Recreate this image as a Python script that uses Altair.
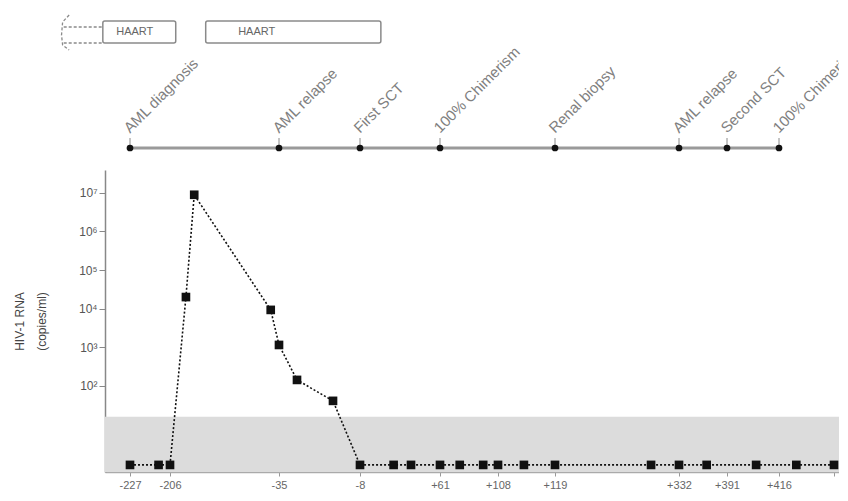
import altair as alt
import pandas as pd

# ---------------- data ----------------
# viral load measurements (day relative to first SCT, copies/ml; 0.9 = undetectable, drawn on baseline)
DAYS = [-227, -212, -206, -181, -168, -48, -35, -29, -17, -8, 21, 36, 61, 77,
        96, 108, 113, 119, 284, 332, 366, 405, 433, 470]
COPIES = [0.9, 0.9, 0.9, 2.0e4, 8.9e6, 9.3e3, 1.15e3, 143, 41, 0.9, 0.9, 0.9, 0.9, 0.9,
          0.9, 0.9, 0.9, 0.9, 0.9, 0.9, 0.9, 0.9, 0.9, 0.9]

# x-axis tick days (last one runs off the right edge, so it gets no label)
TICK_DAYS = [-227, -206, -35, -8, 61, 108, 119, 332, 391, 416, 470]
LAST_LABELLED = 416

# clinical timeline
EVENT_NAMES = ["AML diagnosis", "AML relapse", "First SCT", "100% Chimerism",
               "Renal biopsy", "AML relapse", "Second SCT", "100% Chimerism"]
EVENT_DAYS = [-227, -35, -8, 61, 119, 332, 391, 416]

# HAART periods
HAART_LABELS = ["HAART", "HAART"]
HAART_START = [-252, -150]
HAART_END = [-197, 10]

# y axis
Y_TICKS = [1e2, 1e3, 1e4, 1e5, 1e6, 1e7]
Y_TICK_LABELS = ["10²", "10³", "10⁴", "10⁵", "10⁶", "10⁷"]
DETECTION_LIMIT = 16

# ---------------- scales (broken, piecewise time axis) ----------------
X_BREAK_DAYS = [-250, -227, -206, -35, -8, 61, 108, 119, 332, 391, 416, 470, 475]
X_BREAK_PIX = [0, 25, 65, 174, 255, 335, 393, 450, 574, 622, 674, 729, 734]
Y_MIN, Y_MAX = 0.59, 3.9e7
W = 734

xscale = alt.Scale(domain=X_BREAK_DAYS, range=X_BREAK_PIX, nice=False, zero=False)
yscale = alt.Scale(type="log", domain=[Y_MIN, Y_MAX], nice=False)

# ---------------- top panel: HAART boxes + timeline ----------------
TOP_H = 148
LINE_V = 10       # timeline level (panel units)
TICK_V = 20
BOX_LO, BOX_HI = 115, 137
ty = alt.Scale(domain=[0, TOP_H], nice=False, zero=False)

haart = pd.DataFrame({"label": HAART_LABELS, "start": HAART_START, "end": HAART_END})
haart["mid"] = (haart["start"] + haart["end"]) / 2
haart["lo"] = BOX_LO
haart["hi"] = BOX_HI
haart["tv"] = (BOX_LO + BOX_HI) / 2

boxes = alt.Chart(haart).mark_rect(fill="white", stroke="#8a8a8a", strokeWidth=1.5,
                                   cornerRadius=2).encode(
    x=alt.X("start:Q", scale=xscale, axis=None),
    x2="end:Q",
    y=alt.Y("lo:Q", scale=ty, axis=None),
    y2="hi:Q",
)
box_text = alt.Chart(haart).mark_text(fontSize=11, color="#666").encode(
    x=alt.X("mid:Q", scale=xscale, axis=None),
    y=alt.Y("tv:Q", scale=ty, axis=None),
    text="label:N",
)

# dashed bracket left of first HAART box (earlier therapy)
bracket = pd.DataFrame({
    "d": [-283, -289, -290, -289, -283],
    "v": [143, 136, 123, 113, 108],
    "o": [0, 1, 2, 3, 4],
})
bracket_line = alt.Chart(bracket).mark_line(color="#8a8a8a", strokeDash=[3, 2],
                                            strokeWidth=1.3).encode(
    x=alt.X("d:Q", scale=xscale, axis=None),
    y=alt.Y("v:Q", scale=ty, axis=None),
    order="o:Q",
)
dashes = pd.DataFrame({"d1": [-288, -288], "d2": [-252, -252], "v": [131, 115]})
dash_rules = alt.Chart(dashes).mark_rule(color="#8a8a8a", strokeDash=[3, 2],
                                         strokeWidth=1.3).encode(
    x=alt.X("d1:Q", scale=xscale, axis=None),
    x2="d2:Q",
    y=alt.Y("v:Q", scale=ty, axis=None),
)

events = pd.DataFrame({"name": EVENT_NAMES, "day": EVENT_DAYS})
events["v"] = LINE_V
events["vt"] = TICK_V

tl_span = pd.DataFrame({"a": [min(EVENT_DAYS)], "b": [max(EVENT_DAYS)], "v": [LINE_V]})
tl_line = alt.Chart(tl_span).mark_rule(color="#9a9a9a", strokeWidth=3).encode(
    x=alt.X("a:Q", scale=xscale, axis=None),
    x2="b:Q",
    y=alt.Y("v:Q", scale=ty, axis=None),
)
tl_ticks = alt.Chart(events).mark_rule(color="#8a8a8a", strokeWidth=1).encode(
    x=alt.X("day:Q", scale=xscale, axis=None),
    y=alt.Y("v:Q", scale=ty, axis=None),
    y2="vt:Q",
)
tl_dots = alt.Chart(events).mark_circle(size=45, color="#111", opacity=1).encode(
    x=alt.X("day:Q", scale=xscale, axis=None),
    y=alt.Y("v:Q", scale=ty, axis=None),
)
tl_text = alt.Chart(events).mark_text(angle=315, align="left", baseline="bottom",
                                      dx=3, fontSize=15, color="#808080", clip=True).encode(
    x=alt.X("day:Q", scale=xscale, axis=None),
    y=alt.Y("vt:Q", scale=ty, axis=None),
    text="name:N",
)

top = alt.layer(bracket_line, dash_rules, boxes, box_text, tl_line, tl_ticks,
                tl_dots, tl_text).properties(width=W, height=TOP_H)

# ---------------- main panel ----------------
vl = pd.DataFrame({"day": DAYS, "copies": COPIES})
band = pd.DataFrame({"a": [X_BREAK_DAYS[0]], "b": [X_BREAK_DAYS[-1]],
                     "lo": [Y_MIN], "hi": [DETECTION_LIMIT]})

label_expr_y = "[" + ",".join("'" + s + "'" for s in Y_TICK_LABELS) + \
    "][round(log(datum.value)/LN10) - 2]"
label_expr_x = (f"datum.value > {LAST_LABELLED} ? '' : "
                "(datum.value > 0 ? '+' + datum.value : '' + datum.value)")

xaxis = alt.Axis(values=TICK_DAYS, title=None, grid=False, labelExpr=label_expr_x,
                 labelFontSize=11, labelColor="#666", tickColor="#999", tickSize=4,
                 domainColor="#aaa", domainWidth=1.5, labelPadding=3)
yaxis = alt.Axis(values=Y_TICKS, labelExpr=label_expr_y, grid=False,
                 title=["HIV-1 RNA", "(copies/ml)"], titleFontSize=12,
                 titleFontWeight="normal", titleColor="#444", titleLineHeight=22,
                 titlePadding=30, labelFontSize=12, labelColor="#555",
                 tickColor="#888", tickSize=6, domainColor="#888", domainWidth=1.5)

band_rect = alt.Chart(band).mark_rect(color="#dcdcdc").encode(
    x=alt.X("a:Q", scale=xscale, axis=xaxis),
    x2="b:Q",
    y=alt.Y("lo:Q", scale=yscale, axis=yaxis),
    y2="hi:Q",
)
line = alt.Chart(vl).mark_line(color="#111", strokeDash=[2, 2], strokeWidth=1.6).encode(
    x=alt.X("day:Q", scale=xscale),
    y=alt.Y("copies:Q", scale=yscale),
    order="day:Q",
)
pts = alt.Chart(vl).mark_square(size=75, color="#111", opacity=1).encode(
    x=alt.X("day:Q", scale=xscale),
    y=alt.Y("copies:Q", scale=yscale),
)
main = alt.layer(band_rect, line, pts).properties(width=W, height=302)

chart = alt.vconcat(top, main, spacing=12).properties(
    padding={"left": 5, "top": 2, "right": 0, "bottom": 0}
).configure(font="Liberation Sans").configure_view(stroke=None)

chart.save("out.html", embed_options={"renderer": "svg", "actions": False})
